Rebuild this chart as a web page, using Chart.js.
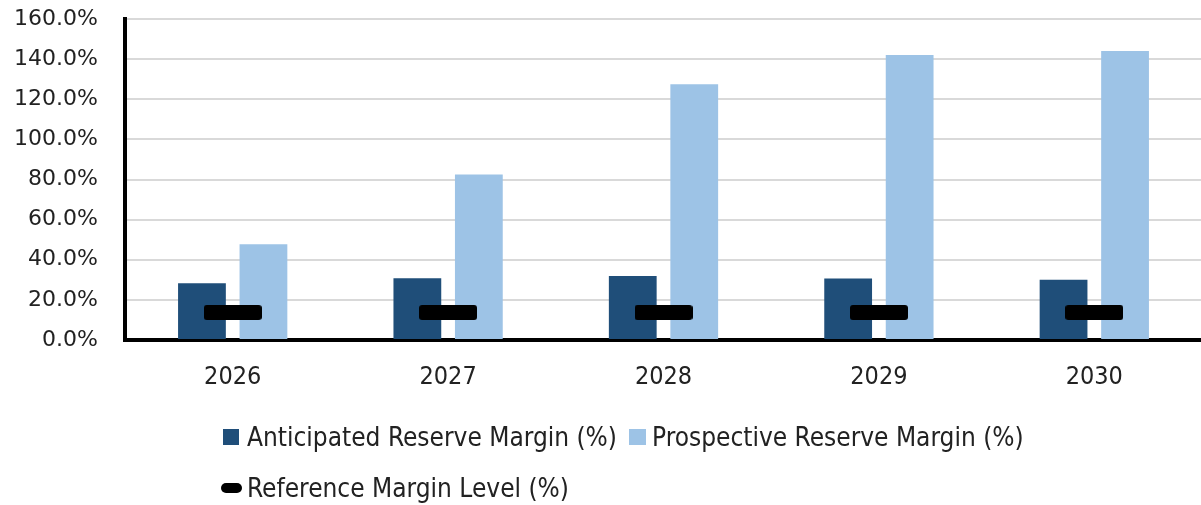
<!DOCTYPE html>
<html>
<head>
<meta charset="utf-8">
<script src="https://cdn.jsdelivr.net/npm/chart.js@4"></script>
<style>
  html, body { margin: 0; padding: 0; background: #fff; overflow: hidden; }
  #wrap { position: relative; width: 1213px; height: 505px; }
  #legend {
    position: absolute; left: 0; top: 0;
    font-family: "DejaVu Sans Condensed", "DejaVu Sans", sans-serif;
    font-stretch: condensed;
    font-size: 26px; color: #222;
  }
  .row { position: absolute; display: flex; align-items: center; white-space: nowrap; height: 30px; }
  .sw { display: inline-block; }
</style>
</head>
<body>
<div id="wrap">
  <canvas id="margin-chart" width="1213" height="505"></canvas>
  <div id="legend"></div>
</div>
<script>
// Chart data
const years = ["2026", "2027", "2028", "2029", "2030"];
const anticipated = [28.3, 30.8, 31.9, 30.7, 30.0];
const prospective = [47.7, 82.5, 127.5, 142.0, 144.0];
const referenceLevel = [13.7, 13.7, 13.7, 13.7, 13.7];
const yTicks = [0, 20, 40, 60, 80, 100, 120, 140, 160];

const seriesNames = [
  "Anticipated Reserve Margin (%)",
  "Prospective Reserve Margin (%)",
  "Reference Margin Level (%)",
];

const darkBlue = "#1F4E79";
const lightBlue = "#9DC3E6";

// black rounded bar used as the reference marker
function roundedMarker(w, h, r) {
  const c = document.createElement("canvas");
  c.width = w;
  c.height = h;
  const g = c.getContext("2d");
  g.fillStyle = "#000";
  g.beginPath();
  g.roundRect(0, 0, w, h, r);
  g.fill();
  return c;
}
const marker = roundedMarker(58, 15, 3);

const ctx = document.getElementById("margin-chart").getContext("2d");
const marginChart = new Chart(ctx, {
  type: "bar",
  data: {
    labels: years,
    datasets: [
      {
        type: "line",
        label: seriesNames[2],
        data: referenceLevel,
        showLine: false,
        pointStyle: marker,
        pointRadius: 10,
        pointHoverRadius: 10,
        order: 0,
      },
      {
        label: seriesNames[0],
        data: anticipated,
        backgroundColor: darkBlue,
        categoryPercentage: 0.571,
        barPercentage: 0.777,
        order: 1,
      },
      {
        label: seriesNames[1],
        data: prospective,
        backgroundColor: lightBlue,
        categoryPercentage: 0.571,
        barPercentage: 0.777,
        order: 1,
      },
    ],
  },
  options: {
    responsive: false,
    animation: false,
    layout: { padding: { top: 19, left: 0, right: 0, bottom: 0 } },
    plugins: {
      legend: { display: false },
      tooltip: { enabled: false },
    },
    scales: {
      x: {
        grid: { display: false, drawTicks: false },
        border: { color: "#000", width: 4 },
        ticks: {
          color: "#222",
          padding: 22,
          font: { family: "'DejaVu Sans Condensed', 'DejaVu Sans', sans-serif", size: 25 },
        },
        afterFit: (s) => { s.height = 165; },
      },
      y: {
        min: 0,
        max: 160,
        afterBuildTicks: (s) => { s.ticks = yTicks.map((v) => ({ value: v })); },
        grid: { color: "#d9d9d9", lineWidth: 2, drawTicks: false },
        border: { color: "#000", width: 4 },
        ticks: {
          color: "#222",
          padding: 27,
          font: { family: "'DejaVu Sans', sans-serif", size: 22 },
          callback: (v) => v.toFixed(1) + "%",
        },
        // fixed width, and don't let the label padding push the plot down
        afterFit: (s) => { s.width = 125; s.paddingTop = 0; },
      },
    },
  },
});

// Legend drawn as html so rows can sit like the original
const legend = document.getElementById("legend");
legend.innerHTML =
  '<div class="row" style="left:223px;top:422px">' +
    '<span class="sw" style="width:16px;height:16px;background:' + darkBlue + ';margin-right:8px"></span>' +
    '<span>' + seriesNames[0] + '</span>' +
    '<span class="sw" style="width:17px;height:16px;background:' + lightBlue + ';margin:0 6px 0 12px"></span>' +
    '<span>' + seriesNames[1] + '</span>' +
  '</div>' +
  '<div class="row" style="left:221px;top:473px">' +
    '<span class="sw" style="width:21px;height:10px;border-radius:5px;background:#000;margin-right:5px"></span>' +
    '<span>' + seriesNames[2] + '</span>' +
  '</div>';
</script>
</body>
</html>
